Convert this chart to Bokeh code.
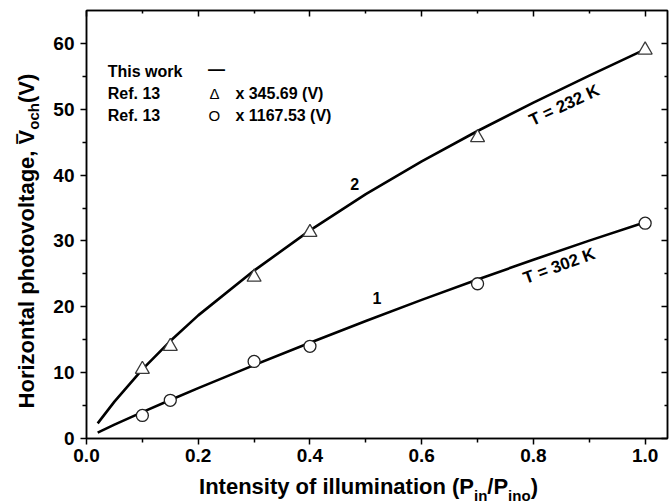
import math
from bokeh.plotting import figure
from bokeh.models import Label, LinearAxis, FixedTicker, Range1d, ColumnDataSource
from bokeh.layouts import column, row
from bokeh.embed import file_html
from bokeh.resources import INLINE

# ---------------- data ----------------
x_fit = [0.02, 0.05, 0.1, 0.15, 0.2, 0.3, 0.4, 0.5, 0.6, 0.7, 0.8, 0.9, 1.0]
y_fit_232 = [2.3, 5.6, 10.5, 14.8, 18.7, 25.5, 31.6, 37.1, 42.1, 46.7, 51.0, 55.1, 59.1]
y_fit_302 = [0.9, 2.1, 4.0, 5.85, 7.65, 11.15, 14.55, 17.85, 21.05, 24.15, 27.15, 30.05, 32.85]

x_ref = [0.1, 0.15, 0.3, 0.4, 0.7, 1.0]
y_ref_232 = [10.5, 14.0, 24.5, 31.3, 45.7, 59.0]
y_ref_302 = [3.5, 5.8, 11.7, 14.0, 23.5, 32.7]

x_major = [0.0, 0.2, 0.4, 0.6, 0.8, 1.0]
x_minor = [0.1, 0.3, 0.5, 0.7, 0.9]
x_labels = ["0.0", "0.2", "0.4", "0.6", "0.8", "1.0"]
y_major = [0, 10, 20, 30, 40, 50, 60]
y_minor = [5, 15, 25, 35, 45, 55]
y_labels = ["0", "10", "20", "30", "40", "50", "60"]

legend_rows = ["This work", "Ref. 13", "Ref. 13"]
legend_syms = ["\u2014", "\u0394", "O"]
legend_vals = ["", "x 345.69 (V)", "x 1167.53 (V)"]

FONT = "Liberation Sans"

MAIN_W, MAIN_H = 624, 473
YT_W = 670 - MAIN_W
XT_H = 503 - MAIN_H
B_LEFT, B_RIGHT, B_TOP, B_BOTTOM = 40, 3, 10, 35

p = figure(width=MAIN_W, height=MAIN_H, x_range=Range1d(0, 1.04), y_range=Range1d(0, 65),
           output_backend="svg", toolbar_location=None,
           min_border_left=B_LEFT, min_border_right=B_RIGHT,
           min_border_top=B_TOP, min_border_bottom=B_BOTTOM)
p.xgrid.visible = False
p.ygrid.visible = False
p.outline_line_color = "black"
p.outline_line_width = 1.5

xt = FixedTicker(ticks=x_major, minor_ticks=x_minor)
yt = FixedTicker(ticks=y_major, minor_ticks=y_minor)

def style_main(ax, ticker, labels, standoff):
    ax.ticker = ticker
    ax.major_label_overrides = {t: l for t, l in zip(ticker.ticks, labels)}
    ax.major_label_text_font = FONT
    ax.major_label_text_font_style = "bold"
    ax.major_label_text_font_size = "19px"
    ax.major_label_text_color = "black"
    ax.axis_line_width = 1.5
    ax.axis_line_color = "black"
    ax.major_tick_in = 0
    ax.major_tick_out = 6
    ax.minor_tick_in = 0
    ax.minor_tick_out = 4
    ax.major_tick_line_width = 1.5
    ax.minor_tick_line_width = 1.5
    ax.major_label_standoff = standoff

style_main(p.xaxis[0], xt, x_labels, 4)
style_main(p.yaxis[0], yt, y_labels, 6)

def side_axis(ticker):
    ax = LinearAxis(ticker=ticker)
    ax.major_label_text_font_size = "0px"
    ax.major_label_text_alpha = 0
    ax.major_label_standoff = 0
    ax.axis_line_width = 1.5
    ax.major_tick_in = 6
    ax.major_tick_out = 0
    ax.minor_tick_in = 3
    ax.minor_tick_out = 0
    ax.major_tick_line_width = 1.5
    ax.minor_tick_line_width = 1.5
    return ax

p.add_layout(side_axis(FixedTicker(ticks=x_major, minor_ticks=x_minor)), "above")
p.add_layout(side_axis(FixedTicker(ticks=y_major, minor_ticks=y_minor)), "right")

# ---------------- curves and points ----------------
fit = ColumnDataSource(dict(x=x_fit, a=y_fit_232, b=y_fit_302))
ref = ColumnDataSource(dict(x=x_ref, a=y_ref_232, b=y_ref_302))
p.line("x", "a", source=fit, line_color="black", line_width=2.6)
p.line("x", "b", source=fit, line_color="black", line_width=2.6)
p.scatter("x", "a", source=ref, marker="triangle", size=14, fill_color="white",
          line_color="#3a3a3a", line_width=1.3)
p.scatter("x", "b", source=ref, marker="circle", size=12, fill_color="white",
          line_color="#222222", line_width=1.3)

def lab(fig, x, y, text, size, bold=True, angle=0.0, align="left", baseline="middle"):
    fig.add_layout(Label(x=x, y=y, text=text, text_font=FONT,
                         text_font_style="bold" if bold else "normal",
                         text_font_size=size, text_color="black", angle=angle,
                         text_align=align, text_baseline=baseline))

# legend (text based, as in the original)
rows_y = [55.8, 52.4, 49.1]
for ry, name, sym, val in zip(rows_y, legend_rows, legend_syms, legend_vals):
    lab(p, 0.038, ry, name, "16px")
    if sym == "\u2014":
        lab(p, 0.2326, ry + 0.2, sym, "17px", align="center")
    else:
        lab(p, 0.229, ry, sym, "15px", bold=False, align="center")
    if val:
        lab(p, 0.2665, ry, val, "16px")

# curve labels
lab(p, 0.48, 38.6, "2", "16px", align="center")
lab(p, 0.52, 21.4, "1", "16px", align="center")
lab(p, 0.855, 50.6, "T = 232 K", "17px", angle=math.radians(25), align="center")
lab(p, 0.846, 26.2, "T = 302 K", "17px", angle=math.radians(20), align="center")

# ---------------- axis titles (strips sharing the main ranges) ----------------
def strip(w, h, xr, yr, **borders):
    f = figure(width=w, height=h, x_range=xr, y_range=yr,
               output_backend="svg", toolbar_location=None, min_border=0,
               x_axis_location=None, y_axis_location=None, **borders)
    f.xgrid.visible = False
    f.ygrid.visible = False
    f.outline_line_color = None
    return f

yfig = strip(YT_W, MAIN_H, Range1d(0, YT_W), p.y_range,
             min_border_top=B_TOP, min_border_bottom=B_BOTTOM)
a90 = math.pi / 2
lab(yfig, 26.2, 4.57, "Horizontal photovoltage, V", "22px", angle=a90)
lab(yfig, 26.2, 44.95, "\u203e", "22px", angle=a90)
lab(yfig, 32.6, 46.89, "och", "15px", angle=a90)
lab(yfig, 26.2, 50.95, " (V)", "22px", angle=a90)

xfig = strip(670, XT_H, p.x_range, Range1d(0, XT_H),
             min_border_left=YT_W + B_LEFT, min_border_right=B_RIGHT)
lab(xfig, 0.2014, 16.6, "Intensity of illumination (P", "22px")
lab(xfig, 0.6936, 8.2, "in", "15px")
lab(xfig, 0.7174, 16.6, "/P", "22px")
lab(xfig, 0.7547, 8.2, "ino", "15px")
lab(xfig, 0.7950, 16.6, ")", "22px")

layout = column(row(yfig, p), xfig)
open("out.html", "w").write(file_html(layout, INLINE))
